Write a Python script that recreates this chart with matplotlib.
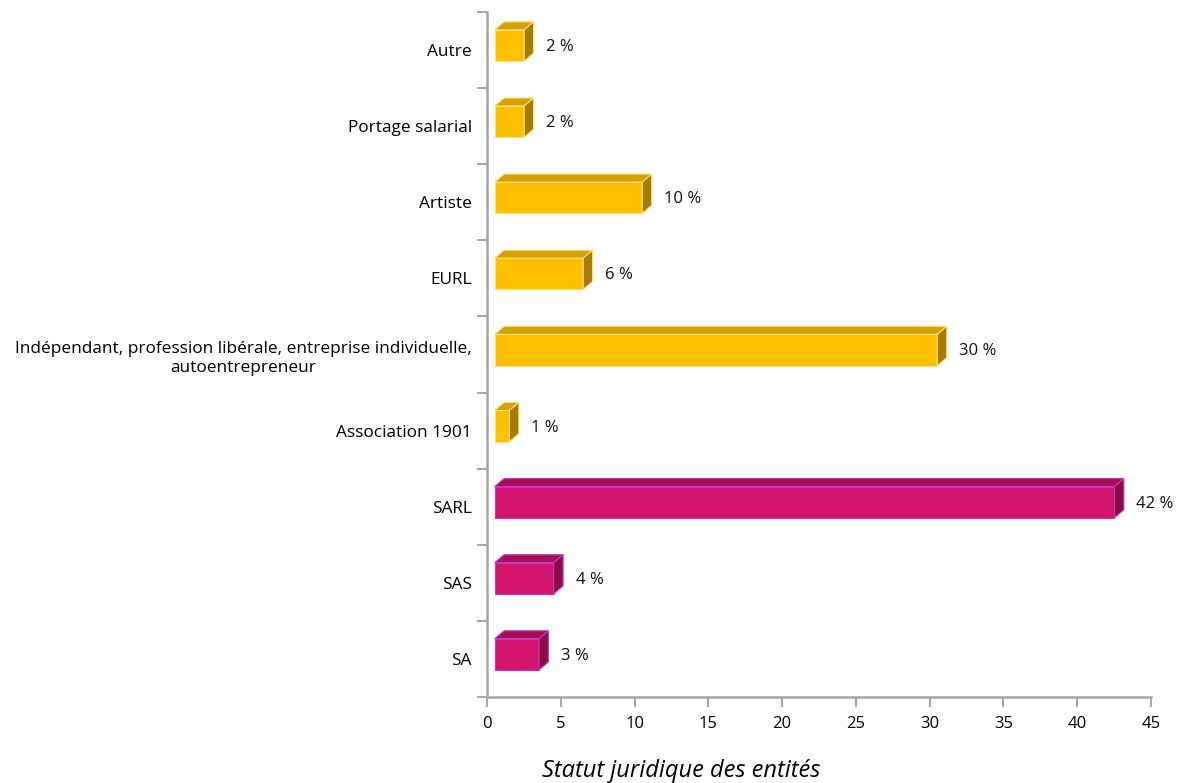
import matplotlib
matplotlib.use("Agg")
import matplotlib.pyplot as plt
from matplotlib.patches import Polygon

plt.rcParams['font.family'] = ['Open Sans', 'DejaVu Sans']

categories = ["SA", "SAS", "SARL", "Association 1901",
              "Indépendant, profession libérale, entreprise individuelle,\nautoentrepreneur",
              "EURL", "Artiste", "Portage salarial", "Autre"]
values = [3, 4, 42, 1, 30, 6, 10, 2, 2]
groups = ["societe", "societe", "societe", "autre", "autre", "autre", "autre", "autre", "autre"]
x_ticks = [0, 5, 10, 15, 20, 25, 30, 35, 40, 45]
xlabel = "Statut juridique des entités"

# front / top / side shades for each group, plus outline colour
palette = {
    "autre": ("#FFC000", "#D6A000", "#A67C00", "#FFE07A"),
    "societe": ("#D2146C", "#A50F55", "#8A0C47", "#C838C8"),
}

fig = plt.figure(figsize=(11.78, 7.83), dpi=100)
ax = fig.add_axes([0.4134, 0.1098, 0.5637, 0.8749])
ax.set_xlim(0, 45)
ax.set_ylim(-0.5, len(categories) - 0.5)

x0 = 0.52      # front face starts slightly off the wall
dx = 0.64      # depth in x (data units)
dy = 0.105     # depth in y (data units)
y_lo, y_hi = -0.145, 0.265

for i, (v, g) in enumerate(zip(values, groups)):
    front, top, side, edge = palette[g]
    yb, yt = i + y_lo, i + y_hi
    xr = x0 + v
    faces = [
        ([(x0, yb), (xr, yb), (xr, yt), (x0, yt)], front),
        ([(x0, yt), (xr, yt), (xr + dx, yt + dy), (x0 + dx, yt + dy)], top),
        ([(xr, yb), (xr + dx, yb + dy), (xr + dx, yt + dy), (xr, yt)], side),
    ]
    for pts, col in faces:
        ax.add_patch(Polygon(pts, closed=True, facecolor=col, edgecolor=edge,
                             linewidth=0.8, joinstyle="miter", zorder=3))
    ax.text(xr + dx + 0.85, (yb + yt) / 2 - 0.02, f"{v} %", ha="left", va="center",
            fontsize=12, color="#111111")

ax.set_yticks([i + 0.5 for i in range(-1, len(categories))], minor=False)
ax.set_yticklabels([])
ax.set_yticks(range(len(categories)), minor=True)
ax.set_yticklabels(categories, minor=True, fontsize=12.4, multialignment="center",
                   linespacing=1.3)
ax.tick_params(axis="y", which="minor", length=0, pad=11)
ax.tick_params(axis="y", which="major", length=7, width=1.5, color="#A6A6A6")

ax.set_xticks(x_ticks)
ax.set_xticklabels([str(t) for t in x_ticks], fontsize=12)
ax.tick_params(axis="x", length=7, width=1.5, color="#A6A6A6", pad=7)

for s in ("top", "right"):
    ax.spines[s].set_visible(False)
for s in ("left", "bottom"):
    ax.spines[s].set_color("#A6A6A6")
    ax.spines[s].set_linewidth(1.8)

fig.text(0.578, 0.0, xlabel, ha="center", va="bottom", fontsize=17, style="italic")

fig.savefig("out.png", dpi=100, facecolor="white")
